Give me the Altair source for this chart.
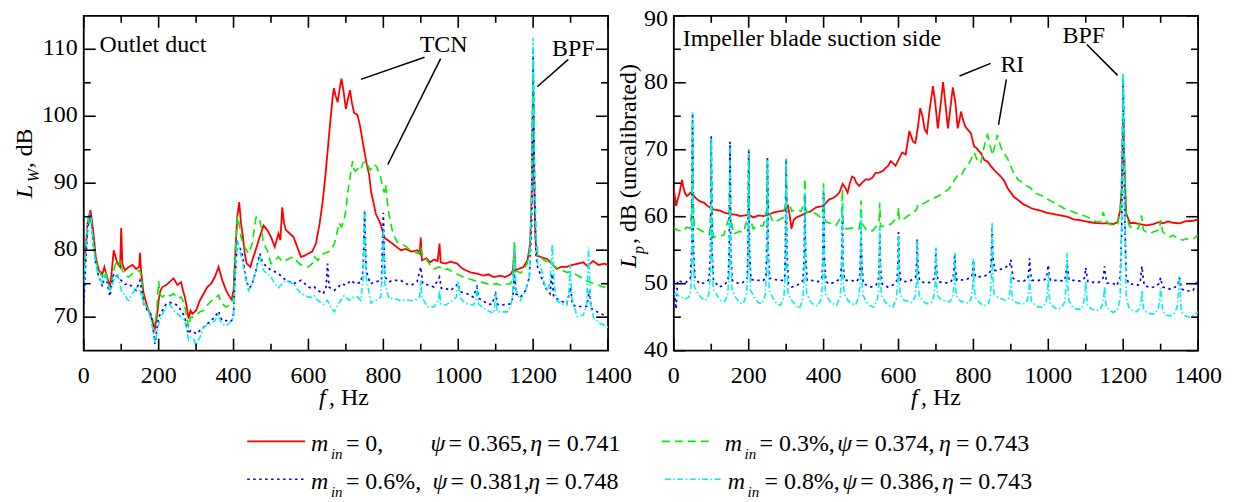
import altair as alt
import pandas as pd

FONT = "Liberation Serif"
W, H = 526, 336

RED, GREEN, BLUE, CYAN = "#ff0000", "#00ee00", "#0000ff", "#00f0f0"

# ---------------- data: outlet duct (L_W, dB) ----------------
LEFT_RED = [(0,78),(5,80),(10,84),(18,86),(25,83),(32,79),(40,77),(50,76.5),(55,77.5),(60,76.5),(65,75.5),(70,74.5),(75,77),(80,80),(85,79),(90,78),(97,77.5),(100,83.3),(103,78),(110,77),(120,77.5),(130,77.8),(140,77.2),(148,77.5),(150,79.6),(153,77),(160,73.5),(170,71.5),(180,70),(185,69),(190,68.3),(195,70),(200,72.5),(205,74),(210,74.5),(220,74.8),(230,75.3),(240,75.8),(250,74.8),(260,75.2),(265,74),(270,73),(275,71.5),(280,69.8),(285,71),(290,70.5),(300,71),(310,72.5),(320,73.5),(330,74.5),(340,75),(350,76),(360,77.5),(365,76.5),(370,75.5),(380,74),(390,73),(395,72.6),(400,74),(405,80),(410,85),(415,87.2),(420,84),(425,82),(430,79.5),(435,78),(445,77.5),(450,78.5),(460,80.2),(470,82),(480,83.7),(490,83),(500,82),(510,80.5),(520,82.5),(525,81.5),(530,86.4),(535,84),(540,83),(550,82.5),(560,82),(570,80.5),(580,79),(590,79.2),(600,79.5),(610,79.8),(620,81),(630,84),(638,87.3),(645,91),(651,94.7),(658,99),(665,103),(668,104.2),(673,103),(678,102.1),(683,104),(688,105.6),(693,104),(700,101.1),(705,102.5),(711,103.9),(716,102),(722,100.5),(731,100.2),(738,98.5),(748,95.2),(755,93),(762,91.3),(767,88.8),(771,87.8),(780,85.4),(793,83.9),(802,81.9),(812,81.5),(824,81),(835,80.5),(847,80),(860,80.2),(875,79.8),(891,80),(897,79.5),(900,81.9),(903,78.5),(915,78.8),(925,78.2),(935,78.6),(945,78.4),(950,81),(953,78.2),(965,78),(980,78.3),(997,78),(1010,77.3),(1020,77),(1033,76.7),(1050,76.5),(1068,76.2),(1080,76.4),(1095,76),(1113,76.2),(1125,76),(1140,76.4),(1146,77),(1150,80),(1153,77),(1165,77.3),(1174,77.5),(1185,78.5),(1192,81),(1196,88),(1200,104.1),(1203,90),(1206,82),(1210,79.2),(1220,79),(1237,78.7),(1250,78),(1263,77.2),(1275,77.5),(1290,77.5),(1305,77.8),(1320,78),(1334,78.2),(1345,77.6),(1360,78.4),(1375,77.8),(1390,78),(1400,77.8)]

LEFT_GREEN = [(0,76),(5,79),(10,83),(18,85),(25,82),(32,78.5),(40,77),(50,76),(55,76.8),(60,76.5),(65,75),(70,74),(75,75.5),(80,77),(85,78),(90,78.5),(95,77.8),(100,78.5),(103,77),(110,76.3),(120,76),(130,76.5),(140,76.8),(150,77),(155,75.5),(160,72.5),(170,71.3),(180,70),(185,69.5),(190,68.8),(195,71),(200,75.4),(203,73.5),(210,73),(220,73.5),(230,73.2),(240,73.5),(250,72.8),(260,73),(265,72.5),(270,71.5),(275,70),(280,68.5),(285,70),(290,70),(300,70.3),(310,70.8),(320,71),(330,71.8),(340,72.4),(350,72.8),(360,73.3),(365,72.5),(370,72),(380,71.5),(390,71.8),(395,72.2),(400,73),(405,80),(410,85.1),(415,84),(420,82),(425,81),(430,80.5),(440,79.5),(450,81),(455,83),(460,84.9),(465,85),(470,84.5),(475,83),(480,81),(490,80),(500,78),(510,78.5),(520,79),(530,78.3),(540,78.5),(550,78.8),(560,79),(570,78.3),(580,77.8),(590,77.7),(600,77.5),(610,78),(616,79),(625,78.5),(640,79.5),(655,79.8),(669,80.9),(676,82.5),(682,84.1),(688,83.5),(695,84.4),(700,86),(704,88.3),(710,90.5),(718,93.3),(722,92),(726,91.8),(735,92.3),(740,92),(745,93),(753,93.3),(760,92.5),(766,92),(775,92.8),(782,92.5),(788,91.5),(793,90.8),(802,88.6),(806,89.8),(810,87.5),(815,85.4),(824,82.9),(830,82),(837,81.2),(850,80.9),(862,80.5),(873,80),(885,79.7),(895,79.5),(900,80.5),(905,79),(917,78.5),(925,77.8),(935,77.2),(950,77.5),(960,77),(971,77.2),(985,76.8),(995,76.5),(1006,76.2),(1020,75.8),(1030,75.7),(1041,75.5),(1055,75.3),(1065,75.2),(1077,75),(1090,74.8),(1100,75),(1113,74.8),(1125,74.9),(1140,75),(1146,76),(1150,81.4),(1153,77),(1166,76.6),(1175,77),(1184,78),(1192,80.5),(1196,88),(1200,108),(1203,92),(1207,82),(1212,79.5),(1219,79),(1230,78.5),(1240,78.2),(1250,78),(1255,77.7),(1265,77.3),(1275,77),(1290,76.7),(1300,76.8),(1310,76.5),(1326,76),(1340,75.5),(1350,75.3),(1361,75),(1375,74.8),(1385,74.5),(1392,74.5),(1400,74)]

LEFT_BLUE = [(0,72),(5,78),(10,83),(15,85.4),(20,84.5),(25,81),(32,78),(40,76),(45,75.5),(50,74.6),(55,76),(60,76),(65,74.5),(70,73.1),(75,75),(80,76.5),(85,76.3),(90,76),(100,75.5),(110,74.9),(120,75),(130,74.5),(140,74),(150,75.5),(155,74),(160,72),(170,71),(180,70.4),(185,68.5),(190,66),(195,68),(200,70),(210,71),(220,72),(230,72.2),(240,72),(250,71.8),(260,71),(270,70),(275,68.5),(280,67.5),(285,68),(290,68),(300,67.5),(310,68),(320,68.5),(330,69),(340,69.5),(350,70),(360,70.9),(365,70),(370,69.5),(380,69.5),(390,69.3),(395,69.5),(400,70.5),(405,77),(410,81),(415,80.5),(420,80),(425,79),(430,76.8),(435,75.5),(440,74.4),(445,74.5),(450,75),(460,77),(470,79.5),(475,78.5),(480,78),(490,77.5),(500,77),(510,76.8),(520,76.5),(530,76),(540,75.5),(550,75.3),(560,75),(570,75.2),(580,75.5),(590,75),(600,74.5),(610,74.3),(616,74.5),(625,74),(640,73.5),(647,74.5),(651,78),(655,74.5),(669,74),(680,74.5),(687,75),(700,74.8),(713,75.5),(725,75),(740,75.2),(746,77),(750,85.9),(754,77),(765,75),(780,75.3),(795,75.5),(800,85.6),(804,76),(815,75.3),(830,75.5),(847,75.5),(860,75),(875,74.8),(890,75.3),(900,77.5),(905,75),(920,74.8),(935,74.5),(950,76),(955,74.3),(965,74.3),(980,74),(1000,75),(1005,73.8),(1024,73.5),(1040,73),(1050,74.5),(1055,72.8),(1065,72.5),(1077,72),(1090,71.9),(1100,73.5),(1105,71.9),(1113,71.8),(1130,71.9),(1140,72),(1146,73),(1150,77),(1154,73.5),(1166,73),(1180,74),(1190,76),(1196,84),(1200,110),(1204,88),(1208,79),(1212,77.5),(1225,75.5),(1237,74),(1245,73.5),(1250,76.5),(1255,73),(1272,72.5),(1290,72),(1300,74.5),(1305,71.8),(1320,71.6),(1343,71.6),(1350,74),(1355,71.3),(1365,71),(1378,70.6),(1390,70.3),(1400,70)]

LEFT_CYAN = [(0,75),(5,80),(10,84),(15,85.5),(20,84.5),(25,81),(32,78),(40,76),(50,75),(55,76.3),(60,76),(65,75),(70,74),(75,74.5),(80,75.5),(90,76.5),(95,75.5),(100,74),(105,73.5),(110,73.4),(115,72.7),(120,72.5),(130,73.5),(140,74.5),(145,74.3),(150,74),(155,73),(160,72),(170,71.5),(180,69.5),(185,68),(190,66),(195,67.5),(200,69),(210,70.5),(220,71.5),(230,71.9),(240,71),(250,70.5),(260,70),(270,69.5),(275,68),(280,66.6),(285,67),(290,67),(295,66.5),(300,65.8),(305,66.5),(310,67),(320,68.5),(330,68.8),(340,69),(350,69.5),(360,70.4),(365,69.5),(370,69),(380,68.7),(390,69.2),(395,69.5),(400,70),(405,77),(410,81.5),(415,80.5),(420,79),(425,78),(430,76.5),(435,75),(440,74),(445,74.5),(450,75),(460,77),(470,79),(475,78),(480,77),(490,76.5),(500,76),(510,75),(520,74.4),(530,75),(540,75.5),(550,75.2),(560,75),(570,74.2),(580,73.5),(590,73.3),(600,73),(610,73),(616,73.2),(625,72.5),(640,71.9),(651,72.5),(660,71.5),(669,70.8),(680,72),(695,73.2),(710,72.5),(720,73),(731,73),(740,72.5),(746,76),(750,86),(754,76),(767,72.1),(780,72.5),(793,73),(797,76),(800,83.4),(804,75),(815,72.8),(828,72.8),(845,72.5),(860,72.6),(873,72.5),(885,72.5),(897,73),(900,75.5),(903,73),(917,71.6),(935,71.5),(947,72.5),(950,74),(953,72),(965,71.8),(980,72.3),(995,73),(1000,75.5),(1004,73),(1015,72.3),(1024,72),(1040,71.8),(1047,72.5),(1050,74.5),(1054,72),(1065,71.5),(1077,71),(1095,70.6),(1100,73.5),(1104,70.8),(1115,70.8),(1130,70.8),(1140,71.5),(1146,74),(1150,80.5),(1154,74),(1166,72.5),(1180,74),(1190,76),(1196,88),(1200,111.7),(1204,92),(1208,82),(1212,78),(1219,78),(1230,75),(1237,74),(1245,75),(1251,80.9),(1256,75),(1263,72.5),(1275,72),(1290,71.8),(1296,74),(1299,78),(1303,73),(1317,70.1),(1334,70.3),(1343,72),(1348,80.4),(1353,72),(1361,70),(1370,69.5),(1378,69.1),(1390,68.8),(1395,68.6),(1400,68.5)]

# ---------------- data: impeller blade suction side (L_p, dB) ----------------
RIGHT_RED = [(0,64),(3,63),(6,61.6),(10,62.5),(15,63.5),(22,65.5),(25,64.5),(30,63.5),(35,63.1),(40,63.3),(44,63.6),(50,63.5),(55,63),(62,62.6),(70,62.3),(80,62.1),(90,61.6),(97,61.4),(105,61.1),(115,61),(124,60.9),(135,60.6),(150,60.4),(165,60.3),(177,60.1),(190,60.2),(200,60.3),(212,59.9),(227,60.2),(239,60.1),(253,60.3),(265,60.6),(280,60.8),(292,60.9),(298,61.1),(305,61.6),(310,60),(314,58.2),(320,59.5),(327,59.9),(340,60.2),(354,60.6),(365,60.8),(380,61.4),(390,61.5),(398,61.6),(405,62),(415,62.6),(425,62.8),(433,63.1),(442,63.6),(451,64.9),(458,64.3),(464,63.6),(470,65),(476,66),(482,65.8),(488,65),(495,64.6),(505,65.2),(513,65.6),(520,65.5),(530,65.8),(538,66.5),(548,66.6),(557,66.8),(566,67.3),(572,67.6),(579,68.3),(585,68),(592,67.6),(600,68.5),(610,69.6),(619,69.3),(624,71),(629,72.8),(634,72),(639,71.2),(645,71),(652,73.5),(658,76.2),(664,75),(670,73),(676,72.5),(683,76),(692,79.5),(698,77),(705,73.2),(712,76.5),(719,80.1),(725,77),(732,73.2),(738,76),(745,79.3),(752,77),(758,73.2),(763,74.5),(767,75.7),(772,74.5),(778,73.5),(785,73),(793,72.5),(802,70.5),(807,70.3),(815,69.8),(820,69.5),(829,68.5),(838,68.2),(846,67.6),(855,67),(864,66.5),(873,66),(882,65.4),(891,64.3),(900,63.6),(909,62.9),(917,62.6),(926,62.2),(935,61.8),(944,61.6),(953,61.3),(965,61.1),(979,60.9),(995,60.6),(1015,60.4),(1032,60.2),(1050,60),(1068,59.6),(1085,59.5),(1100,59.3),(1121,59.1),(1140,59),(1160,59),(1174,58.9),(1185,59.2),(1192,61),(1196,64),(1200,75),(1204,66),(1208,60.5),(1218,59),(1227,59.1),(1245,58.9),(1262,58.7),(1280,58.9),(1295,59.2),(1306,59),(1320,59.3),(1333,59.1),(1351,59),(1365,59.3),(1386,59.4),(1400,59.6)]

RIGHT_GREEN = [(0,58.4),(8,58),(15,57.9),(27,57.9),(33,58.4),(45,58.3),(48,62),(50,74),(52,62),(55,58.2),(65,58.2),(80,57.7),(95,57.3),(98,60),(100,71.9),(102,60),(106,56.9),(120,57.2),(133,57.2),(148,60),(150,70.5),(152,60),(159,57.4),(174,57.8),(186,57.7),(198,60),(200,70.1),(202,60),(212,58.2),(227,58.6),(239,58.7),(248,61),(250,68),(252,61),(265,59.2),(280,59.5),(292,59.9),(298,62),(300,68.7),(302,62),(309,61.9),(315,60.8),(327,61.1),(340,60.8),(348,62),(350,65.7),(352,61.5),(354,60.6),(365,60.8),(380,60.4),(390,60),(398,61),(400,65),(402,60),(407,59.2),(420,59),(433,58.7),(448,60),(450,64.1),(452,59),(460,58.2),(475,58.3),(495,58.2),(498,59.5),(500,62.4),(502,59),(515,58),(530,57.9),(548,59),(550,62.1),(552,58.5),(566,58.7),(580,58.9),(598,60),(600,61.4),(602,59.5),(610,59.5),(623,60),(636,60.6),(648,61),(652,61.8),(660,61.8),(672,62.1),(685,62.6),(695,62.8),(707,63.1),(720,63.6),(734,64.1),(740,64.6),(750,65.5),(758,66.2),(767,66.1),(775,67),(785,67.6),(793,68.5),(802,69.6),(810,68.5),(820,68),(827,70),(833,71.5),(838,72.2),(845,70.5),(851,69.2),(857,70.5),(864,72.2),(870,71),(878,69.7),(885,69.2),(891,68.7),(900,67.5),(909,66.3),(920,65.5),(931,65.1),(942,64.6),(953,64.3),(961,63.6),(975,63.3),(988,63),(1005,62.4),(1023,61.9),(1040,61.3),(1059,60.9),(1077,60.5),(1094,60.2),(1110,59.8),(1129,59.2),(1140,59.3),(1147,60.7),(1152,59.5),(1163,58.9),(1173,58.7),(1185,59),(1192,61),(1196,66),(1200,81.3),(1204,68),(1208,60),(1218,58.5),(1227,58.4),(1240,58.2),(1249,60.2),(1254,58),(1262,57.7),(1271,57.5),(1283,57.8),(1297,58),(1300,59.5),(1305,57.8),(1314,57.3),(1324,57),(1333,57.2),(1345,56.8),(1359,56.5),(1368,56.7),(1380,56.6),(1390,56.8),(1400,57.3)]

RIGHT_BLUE = [(0,50.5),(3,48),(6,46.2),(10,50.5),(20,50.3),(33,50.2),(44,50.8),(48,55),(50,75.5),(52,56),(56,51),(68,50),(80,50.1),(94,50.6),(98,55),(100,72),(102,55),(106,50.5),(121,49.5),(135,49.8),(145,50.5),(148,55),(150,71.2),(152,55),(156,50.5),(174,50),(185,50.2),(196,50.8),(198,55),(200,69.8),(202,55),(206,50.6),(227,50.5),(238,50.4),(246,51),(248,55),(250,68.9),(252,55),(256,50.8),(280,50.5),(290,50.5),(296,51),(298,55),(300,68.5),(302,55),(306,50),(315,49.5),(330,49.8),(345,50.5),(348,54),(350,63),(352,54),(356,50.5),(368,50.5),(385,50.3),(396,51),(398,54),(400,63.5),(402,54),(406,50.5),(412,50),(430,50.2),(445,50.8),(448,53),(450,60.5),(452,53),(456,50.5),(474,50.5),(488,50.3),(496,51),(498,53),(500,58.5),(502,53),(506,50),(527,49.5),(540,49.8),(546,50.5),(548,52.5),(550,57.5),(552,52.5),(556,50),(571,49.5),(585,49.8),(596,50.5),(598,52.5),(600,57.7),(602,52.5),(606,50.5),(620,50.3),(633,50.5),(646,51),(648,52.5),(650,56.7),(652,52.5),(656,50.5),(670,50.1),(685,50.2),(696,50.8),(698,52),(700,55.2),(702,52),(706,50.3),(723,50.1),(738,50.2),(746,50.8),(748,52),(750,54.5),(752,52),(756,50.5),(776,50.6),(790,50.8),(796,51.2),(798,52),(800,53.5),(802,52),(806,51),(829,51.1),(842,51.5),(846,52),(848,54),(850,58.5),(852,54),(857,52),(864,51.9),(878,52.3),(891,52.6),(896,52.5),(898,53),(900,53.6),(902,52.5),(906,50.8),(917,50.4),(935,50.4),(946,50.8),(948,52),(950,53.8),(952,52),(956,50.5),(975,50.5),(990,50.6),(996,51),(998,52),(1000,52.8),(1002,51.5),(1006,50.5),(1025,50.5),(1041,50.4),(1046,51),(1048,52),(1050,53.5),(1052,52),(1056,50.5),(1069,50.5),(1085,50.4),(1096,50.8),(1098,51.5),(1100,52.4),(1102,51.5),(1106,50.3),(1122,50.2),(1135,50.2),(1146,50.8),(1148,51.5),(1150,52.6),(1152,51.5),(1156,50.1),(1175,50),(1183,49.7),(1192,51),(1196,58),(1200,80.5),(1204,60),(1208,51),(1215,50),(1227,49.9),(1240,49.8),(1246,50.5),(1248,51.5),(1250,52.6),(1252,51.5),(1256,49.8),(1271,49.4),(1281,49.5),(1296,50),(1298,50.5),(1300,50.9),(1302,50.3),(1306,49.5),(1324,49.2),(1334,49.3),(1346,49.8),(1348,50.5),(1350,50.9),(1352,50.3),(1356,49.2),(1368,48.9),(1387,49),(1396,50.5),(1400,50)]

RIGHT_CYAN = [(0,48.5),(10,48.3),(20,48),(30,47.7),(40,48),(45,48.8),(48,52),(50,75.6),(52,55),(55,49.5),(65,48.5),(75,47.8),(85,47.5),(94,48.5),(98,52),(100,71.5),(102,54),(105,49.3),(115,48.3),(125,47.5),(135,47.3),(144,48.3),(148,52),(150,70.8),(152,54),(155,49.3),(165,48),(175,47.2),(185,47),(194,48.3),(198,52),(200,69.5),(202,54),(205,49),(215,48),(225,47.2),(235,47),(244,48.3),(248,52),(250,68.5),(252,54),(255,49),(265,47.8),(275,47),(285,46.8),(294,48),(298,52),(300,68.3),(302,53),(305,48.5),(315,47.5),(325,46.8),(335,46.3),(344,47.5),(348,51),(350,63.6),(352,52),(355,48.5),(365,47.3),(375,46.8),(385,46.7),(394,47.8),(398,51),(400,64.1),(402,52),(405,48.5),(415,47.5),(425,47),(435,46.8),(444,48),(448,51),(450,62.1),(452,51),(455,48.5),(465,47.5),(475,47),(485,46.8),(494,48),(498,50.5),(500,60.6),(502,50.5),(505,48.3),(515,47.2),(525,46.7),(535,46.5),(544,47.8),(548,50),(550,58.7),(552,50),(555,48.3),(565,47.2),(575,46.7),(585,46.5),(594,47.8),(598,50),(600,57.2),(602,50),(605,48.4),(615,47.5),(625,47.4),(635,47.2),(644,48),(648,50),(650,56.6),(652,50),(655,48.3),(665,47.3),(678,47),(688,47.2),(694,48),(698,50),(700,55.4),(702,49.5),(705,48.2),(715,47.5),(727,47.4),(737,47.3),(744,48),(748,49.5),(750,54.6),(752,49.5),(755,48.2),(765,47.4),(776,47.2),(787,47.1),(794,47.8),(798,49.5),(800,53.8),(802,49.5),(805,48),(815,47.2),(829,46.7),(840,47),(845,48),(848,51),(850,59.2),(852,51),(855,48.5),(865,48),(875,47.8),(885,47.5),(894,47.8),(898,49),(900,51.4),(902,49),(905,47.5),(915,47.2),(926,47),(935,47),(944,47.5),(948,49),(950,51.4),(952,49),(955,47.3),(965,46.8),(975,46.5),(985,46.5),(994,47.2),(998,49),(1000,51.6),(1002,48.5),(1005,47),(1015,46.5),(1023,46.2),(1035,46.4),(1044,47.3),(1048,50),(1050,54.6),(1052,50),(1055,47.5),(1065,46.5),(1076,46.2),(1088,46.2),(1094,47),(1098,48.5),(1100,50.4),(1102,48.5),(1105,46.8),(1115,46.2),(1129,46),(1138,46.1),(1144,46.8),(1148,48),(1150,49.6),(1152,48),(1155,46.5),(1165,46),(1173,45.7),(1185,46),(1192,48),(1196,60),(1200,81.3),(1204,62),(1208,48),(1215,46.5),(1225,46),(1235,45.8),(1244,46.3),(1248,47.5),(1250,49),(1252,47.5),(1255,46),(1265,45.7),(1275,45.5),(1285,45.5),(1294,46.3),(1298,48),(1300,49.4),(1302,48),(1305,46),(1315,45.3),(1324,45.2),(1335,45.4),(1344,46.5),(1348,49),(1350,51.1),(1352,49),(1355,45.8),(1365,45.2),(1377,45),(1390,45.3),(1400,45.8)]

X_LABELS = [0, 200, 400, 600, 800, 1000, 1200, 1400]
X_MINOR = [100, 300, 500, 700, 900, 1100, 1300]
LEFT_Y_LABELS = [70, 80, 90, 100, 110]
LEFT_Y_MINOR = [75, 85, 95, 105]
RIGHT_Y_LABELS = [40, 50, 60, 70, 80, 90]
RIGHT_Y_MINOR = [45, 55, 65, 75, 85]

LEFT_NOTES = [("Outlet duct", 42, 110.7, "left"), ("TCN", 961, 110.6, "center"), ("BPF", 1307, 110.1, "center")]
LEFT_LEADERS = [(740, 105.5, 910, 108.8), (953, 108.6, 812, 92.8), (1294, 108.5, 1211, 104.4)]
RIGHT_NOTES = [("Impeller blade suction side", 24, 86.6, "left"), ("RI", 904, 82.6, "center"), ("BPF", 1095, 87.0, "center")]
RIGHT_LEADERS = [(763, 81.0, 846, 82.9), (888, 80.5, 867, 73.7), (1103, 85.7, 1185, 81.1)]

STYLES = [(RED, None, 1.8), (GREEN, [8, 5], 1.6), (BLUE, [2.5, 3.5], 1.7), (CYAN, [6, 2.5, 1.5, 2.5], 1.6)]

ONE = pd.DataFrame({"a": [0]})


def txt(s, x, y, size=24, italic=False, angle=0, align="left"):
    return alt.Chart(ONE).mark_text(
        text=s, font=FONT, fontSize=size, fontStyle="italic" if italic else "normal",
        align=align, baseline="alphabetic", angle=angle, color="black"
    ).encode(x=alt.value(x), y=alt.value(y))


def panel(series, ydom, ylabels, yminor, notes, leaders, extras):
    xs = alt.Scale(domain=[0, 1400], nice=False, zero=False)
    ys = alt.Scale(domain=ydom, nice=False, zero=False)
    layers = []
    for data, (col, dash, sw) in zip(series, STYLES):
        df = pd.DataFrame(data, columns=["f", "L"])
        kw = dict(color=col, strokeWidth=sw, clip=True)
        if dash is not None:
            kw["strokeDash"] = dash
        layers.append(alt.Chart(df).mark_line(**kw).encode(
            x=alt.X("f:Q", scale=xs, axis=None),
            y=alt.Y("L:Q", scale=ys, axis=None)))
    # inward ticks on all four sides
    for vals, ln in ((ylabels, 12), (yminor, 7)):
        d = pd.DataFrame({"v": vals})
        for a, b in ((0, ln), (W, W - ln)):
            layers.append(alt.Chart(d).mark_rule(color="black", strokeWidth=1.6).encode(
                y=alt.Y("v:Q", scale=ys, axis=None), x=alt.value(a), x2=alt.value(b)))
    for vals, ln in ((X_LABELS, 12), (X_MINOR, 7)):
        d = pd.DataFrame({"v": vals})
        for a, b in ((0, ln), (H, H - ln)):
            layers.append(alt.Chart(d).mark_rule(color="black", strokeWidth=1.6).encode(
                x=alt.X("v:Q", scale=xs, axis=None), y=alt.value(a), y2=alt.value(b)))
    # tick labels
    dx = pd.DataFrame({"v": X_LABELS, "t": [str(v) for v in X_LABELS]})
    layers.append(alt.Chart(dx).mark_text(font=FONT, fontSize=24, align="center",
                                          baseline="alphabetic", color="black").encode(
        x=alt.X("v:Q", scale=xs, axis=None), y=alt.value(H + 32), text="t:N"))
    top = ydom[1]
    inner = [v for v in ylabels if v != top]
    dy = pd.DataFrame({"v": inner, "t": [str(v) for v in inner]})
    layers.append(alt.Chart(dy).mark_text(font=FONT, fontSize=24, align="right", dy=6,
                                          baseline="alphabetic", color="black").encode(
        y=alt.Y("v:Q", scale=ys, axis=None), x=alt.value(-6), text="t:N"))
    if top in ylabels:
        dt = pd.DataFrame({"v": [top], "t": [str(top)]})
        layers.append(alt.Chart(dt).mark_text(font=FONT, fontSize=24, align="right", dy=10,
                                              baseline="alphabetic", color="black").encode(
            y=alt.Y("v:Q", scale=ys, axis=None), x=alt.value(-6), text="t:N"))
    # annotations
    for t, f, l, al in notes:
        d = pd.DataFrame({"f": [f], "L": [l]})
        layers.append(alt.Chart(d).mark_text(text=t, font=FONT, fontSize=24, align=al,
                                             baseline="middle", color="black").encode(
            x=alt.X("f:Q", scale=xs, axis=None), y=alt.Y("L:Q", scale=ys, axis=None)))
    d = pd.DataFrame(leaders, columns=["f", "L", "f2", "L2"])
    layers.append(alt.Chart(d).mark_rule(color="black", strokeWidth=1.5).encode(
        x=alt.X("f:Q", scale=xs, axis=None), y=alt.Y("L:Q", scale=ys, axis=None),
        x2="f2:Q", y2="L2:Q"))
    layers += extras
    return alt.layer(*layers).properties(width=W, height=H)


# axis titles (with italic symbols and subscripts)
left_extra = [
    txt("L", -52, 183, italic=True, angle=270),
    txt("W", -45, 167, size=16, italic=True, angle=270),
    txt(", dB", -52, 153, angle=270),
    txt("f", 236, H + 54, italic=True),
    txt(", Hz", 246, H + 54),
]
right_extra = [
    txt("L", -38, 253, italic=True, angle=270),
    txt("p", -30, 239, size=16, italic=True, angle=270),
    txt(", dB (uncalibrated)", -38, 229, angle=270),
    txt("f", 238, H + 54, italic=True),
    txt(", Hz", 248, H + 54),
]

# legend (drawn below both panels)
LEGEND = [
    (RED, None, 164, 222, 427, 437, 228, "= 0,", 263, 348, "= 0.365,", 448, "= 0.741"),
    (BLUE, [2.5, 3.5], 164, 222, 465, 475, 228, "= 0.6%,", 263, 350, "= 0.381,", 446, "= 0.748"),
    (GREEN, [8, 5], 580, 631, 427, 437, 643, "= 0.3%,", 678, 756, "= 0.374,", 858, "= 0.743"),
    (CYAN, [6, 2.5, 1.5, 2.5], 583, 640, 465, 475, 646, "= 0.8%,", 683, 761, "= 0.386,", 861, "= 0.743"),
]
for col, dash, x0, x1, ly, by, mx, rest, rx, px, ptxt, ex, etxt in LEGEND:
    kw = dict(color=col, strokeWidth=1.6)
    if dash is not None:
        kw["strokeDash"] = dash
    left_extra.append(alt.Chart(ONE).mark_rule(**kw).encode(
        x=alt.value(x0), x2=alt.value(x1), y=alt.value(ly)))
    left_extra += [
        txt("m", mx, by, italic=True),
        txt("in", mx + 20, by + 8, size=15, italic=True),
        txt(rest, rx, by),
        txt("ψ", px, by, italic=True),
        txt(ptxt, px + 18, by),
        txt("η", ex, by, italic=True),
        txt(etxt, ex + 17, by),
    ]

left = panel([LEFT_RED, LEFT_GREEN, LEFT_BLUE, LEFT_CYAN], [65, 115], LEFT_Y_LABELS, LEFT_Y_MINOR,
             LEFT_NOTES, LEFT_LEADERS, left_extra)
right = panel([RIGHT_RED, RIGHT_GREEN, RIGHT_BLUE, RIGHT_CYAN], [40, 90], RIGHT_Y_LABELS, RIGHT_Y_MINOR,
              RIGHT_NOTES, RIGHT_LEADERS, right_extra)

chart = alt.hconcat(left, right, spacing=66, bounds="flush").properties(
    padding={"left": 4, "top": -3, "right": 5, "bottom": 0}, background="white"
).configure_view(stroke="black", strokeWidth=1.8)

chart.save("out.html", embed_options={"renderer": "svg", "actions": False})
